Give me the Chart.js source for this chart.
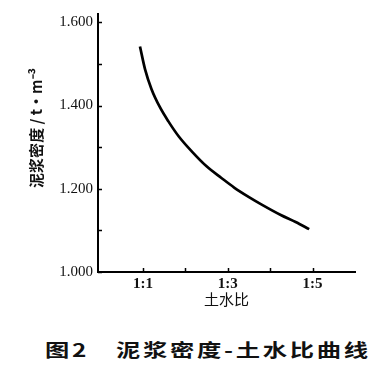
<!DOCTYPE html>
<html>
<head>
<meta charset="utf-8">
<script src="https://cdn.jsdelivr.net/npm/chart.js@4/dist/chart.umd.min.js"></script>
<style>
  html, body { margin: 0; padding: 0; background: #fff; }
  #wrap { position: relative; width: 387px; height: 375px; overflow: hidden; }
  #box { position: absolute; left: 0; top: 0; width: 387px; height: 320px; }
  #cap { position: absolute; left: 45px; top: 338px; white-space: nowrap;
         font-family: "Noto Sans CJK SC", sans-serif; font-weight: 700; font-size: 18px;
         letter-spacing: 2px; transform: scaleX(1.35); transform-origin: left center; color: #111; line-height: 22px; }
</style>
</head>
<body>
<div id="wrap">
  <div id="box"><canvas id="c"></canvas></div>
  <div id="cap">图2　泥浆密度-土水比曲线</div>
</div>
<script>
// Soil:water ratio (1:x)
const ratioX = [0.93, 1.05, 1.2, 1.4, 1.6, 1.85, 2.15, 2.5, 2.85, 3.15, 3.5, 3.8, 4.25, 4.6, 4.92];
// Slurry density (t/m^3)
const density = [1.542, 1.487, 1.440, 1.396, 1.362, 1.325, 1.290, 1.254, 1.226, 1.203, 1.180, 1.162, 1.137, 1.120, 1.103];
// Tick positions and labels
const xTickValues = [1, 2, 3, 4, 5];
const xTickLabels = {1: '1:1', 3: '1:3', 5: '1:5'};
const yTickValues = [1.0, 1.1, 1.2, 1.3, 1.4, 1.5, 1.6];
const yTickLabels = {'1.0': '1.000', '1.2': '1.200', '1.4': '1.400', '1.6': '1.600'};
const xTitle = '土水比';
const yTitle = '　　泥浆密度 / t·m⁻³';

const inwardTicks = {
  id: 'inwardTicks',
  afterDraw(chart) {
    const ctx = chart.ctx;
    const xs = chart.scales.x, ys = chart.scales.y;
    const a = chart.chartArea;
    ctx.save();
    ctx.strokeStyle = '#000';
    ctx.lineWidth = 1.5;
    ctx.beginPath();
    xTickValues.forEach(v => {
      const p = Math.round(xs.getPixelForValue(v)) + 0.5;
      ctx.moveTo(p, a.bottom);
      ctx.lineTo(p, a.bottom - 4);
    });
    yTickValues.forEach(v => {
      const p = Math.round(ys.getPixelForValue(v)) + 0.5;
      ctx.moveTo(a.left, p);
      ctx.lineTo(a.left + 4, p);
    });
    ctx.stroke();
    ctx.restore();
  }
};

const points = ratioX.map((x, i) => ({x: x, y: density[i]}));

new Chart(document.getElementById('c'), {
  type: 'line',
  data: {
    datasets: [{
      data: points,
      borderColor: '#000',
      borderWidth: 2.7,
      pointRadius: 0,
      cubicInterpolationMode: 'monotone',
      fill: false
    }]
  },
  options: {
    responsive: true,
    maintainAspectRatio: false,
    animation: false,
    layout: { padding: { left: 27, right: 32, top: 12, bottom: 12 } },
    plugins: { legend: { display: false }, tooltip: { enabled: false } },
    scales: {
      x: {
        type: 'linear',
        min: -0.06,
        max: 6,
        border: { color: '#000', width: 2 },
        grid: { drawOnChartArea: false, drawTicks: false },
        afterBuildTicks(s) { s.ticks = xTickValues.map(v => ({value: v})); },
        afterFit(s) { s.height = 36; },
        ticks: {
          autoSkip: false,
          maxRotation: 0,
          padding: 3,
          color: '#111',
          font: { family: '"Liberation Serif", "DejaVu Serif", serif', size: 15, weight: 'bold' },
          callback: v => xTickLabels[v] || ''
        },
        title: {
          display: true,
          text: xTitle,
          color: '#111',
          padding: { top: 0, bottom: 0 },
          font: { family: '"Noto Sans CJK SC", sans-serif', size: 15 }
        }
      },
      y: {
        type: 'linear',
        min: 1.0,
        max: 1.62,
        border: { color: '#000', width: 2 },
        grid: { drawOnChartArea: false, drawTicks: false },
        afterBuildTicks(s) { s.ticks = yTickValues.map(v => ({value: v})); },
        afterFit(s) { s.width = 71; },
        ticks: {
          autoSkip: false,
          padding: 5,
          color: '#111',
          font: { family: '"Liberation Serif", "DejaVu Serif", serif', size: 15 },
          callback: v => yTickLabels[v.toFixed(1)] || ''
        },
        title: {
          display: true,
          text: yTitle,
          color: '#111',
          padding: { top: 0, bottom: 4 },
          font: { family: '"Noto Sans CJK SC", sans-serif', size: 15, weight: 'bold' }
        }
      }
    }
  },
  plugins: [inwardTicks]
});
</script>
</body>
</html>
